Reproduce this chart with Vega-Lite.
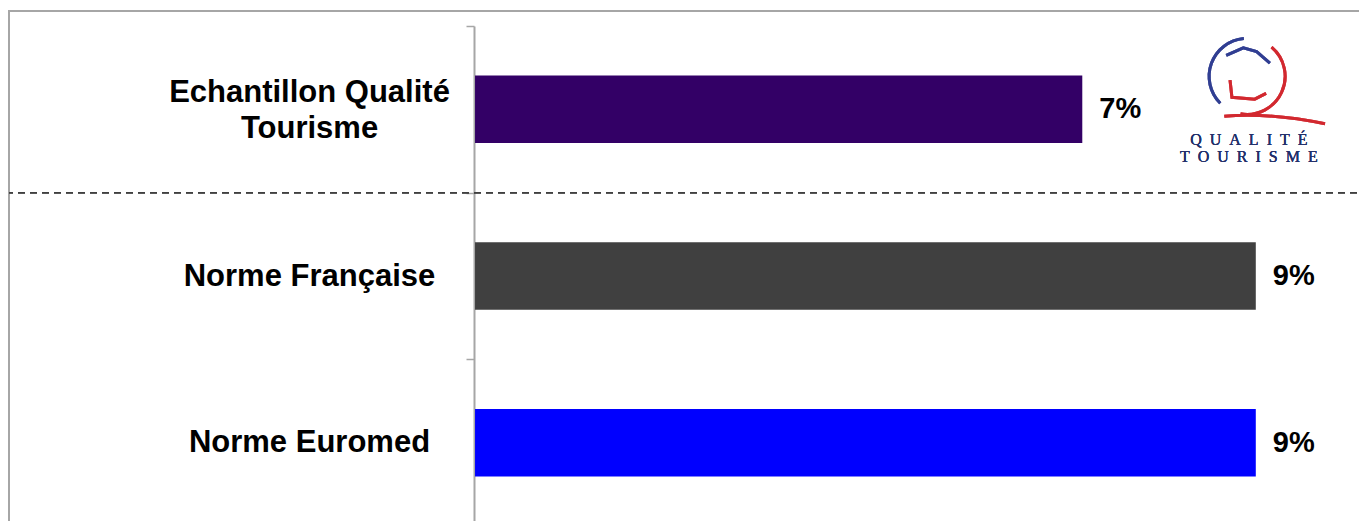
{
  "$schema": "https://vega.github.io/schema/vega-lite/v6.json",
  "width": 1360,
  "height": 530,
  "autosize": "none",
  "padding": {"left": 9, "top": 11, "right": 0, "bottom": 0},
  "background": "white",
  "config": {
    "view": {"stroke": "#A6A6A6", "strokeWidth": 2},
    "font": "Liberation Sans"
  },
  "data": {
    "values": [
      {"categorie": "Echantillon Qualité Tourisme", "valeur": 0.07},
      {"categorie": "Norme Française", "valeur": 0.09},
      {"categorie": "Norme Euromed", "valeur": 0.09}
    ]
  },
  "encoding": {
    "y": {
      "field": "categorie",
      "type": "nominal",
      "sort": null,
      "scale": {"range": [15, 515], "paddingInner": 0, "paddingOuter": 0},
      "axis": {
        "title": null,
        "offset": -465,
        "domainColor": "#A6A6A6",
        "domainWidth": 2,
        "tickColor": "#A6A6A6",
        "tickWidth": 1.5,
        "tickSize": 8,
        "tickBand": "extent",
        "labelAlign": "center",
        "labelBaseline": "middle",
        "labelPadding": 157,
        "labelOffset": {"condition": {"test": "datum.value == 'Echantillon Qualité Tourisme'", "value": -17}, "value": 0},
        "labelFont": "Liberation Sans",
        "labelFontSize": 31,
        "labelFontWeight": "bold",
        "labelColor": "#000000",
        "labelLimit": 500,
        "labelLineHeight": 36,
        "labelExpr": "datum.label == 'Echantillon Qualité Tourisme' ? ['Echantillon Qualité', 'Tourisme'] : datum.label"
      }
    }
  },
  "layer": [
    {
      "mark": {"type": "bar", "height": {"band": 0.405}},
      "encoding": {
        "x": {
          "field": "valeur",
          "type": "quantitative",
          "scale": {"domain": [-0.05372, 0.10305], "nice": false, "zero": false},
          "axis": null
        },
        "x2": {"datum": 0},
        "color": {
          "field": "categorie",
          "type": "nominal",
          "scale": {
            "domain": ["Echantillon Qualité Tourisme", "Norme Française", "Norme Euromed"],
            "range": ["#330066", "#404040", "#0000FF"]
          },
          "legend": null
        }
      }
    },
    {
      "mark": {"type": "text", "align": "left", "baseline": "middle", "dx": 17, "fontSize": 29, "fontWeight": "bold", "font": "Liberation Sans", "color": "#000000"},
      "encoding": {
        "x": {"field": "valeur", "type": "quantitative"},
        "text": {"field": "valeur", "type": "quantitative", "format": ".0%"}
      }
    },
    {
      "mark": {"type": "rule", "color": "#404040", "strokeWidth": 1.5, "strokeDash": [7, 5]},
      "encoding": {
        "y": {"datum": "Norme Française", "bandPosition": 0}
      }
    },
    {
      "mark": {"type": "point", "filled": false, "stroke": "#2B3990", "strokeWidth": 3, "size": 5776, "yOffset": -33,
        "shape": "M -0.087 -0.996 A 1 1 0 0 0 -0.707 0.707 M -0.55 -0.55 L -0.1 -0.75 L 0.25 -0.65 L 0.6 -0.35"},
      "encoding": {
        "x": {"datum": 0.0890},
        "y": {"datum": "Echantillon Qualité Tourisme"}
      }
    },
    {
      "mark": {"type": "point", "filled": false, "stroke": "#D2232A", "strokeWidth": 3, "size": 5776, "yOffset": -33,
        "shape": "M 0.643 -0.766 A 1 1 0 0 1 -0.174 0.985 M -0.6 1.05 Q 0.6 0.95 2.05 1.25 M -0.45 0.1 L -0.4 0.55 L 0.2 0.6 L 0.5 0.45"},
      "encoding": {
        "x": {"datum": 0.0890},
        "y": {"datum": "Echantillon Qualité Tourisme"}
      }
    },
    {
      "mark": {"type": "text", "align": "center", "baseline": "middle", "dy": 31, "font": "Liberation Serif", "fontSize": 16, "color": "#23306B", "text": "Q\u2002U\u2002A\u2002L\u2002I\u2002T\u2002É"},
      "encoding": {
        "x": {"datum": 0.0892},
        "y": {"datum": "Echantillon Qualité Tourisme"}
      }
    },
    {
      "mark": {"type": "text", "align": "center", "baseline": "middle", "dy": 48, "font": "Liberation Serif", "fontSize": 16, "color": "#23306B", "text": "T\u2002O\u2002U\u2002R\u2002I\u2002S\u2002M\u2002E"},
      "encoding": {
        "x": {"datum": 0.0892},
        "y": {"datum": "Echantillon Qualité Tourisme"}
      }
    }
  ]
}
